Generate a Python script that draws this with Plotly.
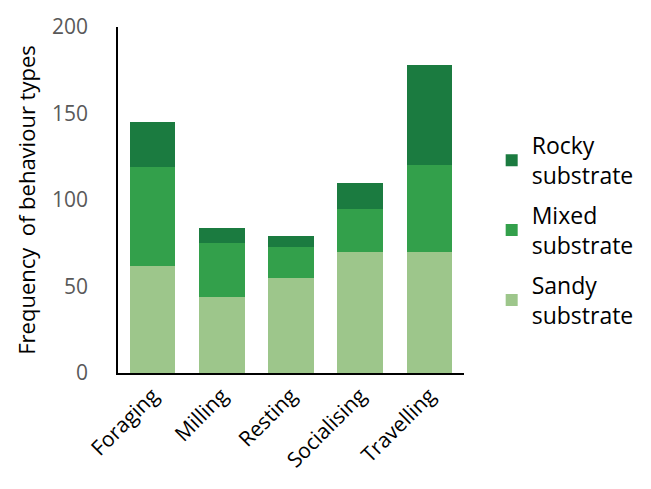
import plotly.graph_objects as go

behaviours = ["Foraging", "Milling", "Resting", "Socialising", "Travelling"]
sandy = [62, 44, 55, 70, 70]
mixed = [57, 31, 18, 25, 50]
rocky = [26, 9, 6, 15, 58]

# (legend label, values, colour, legend rank) - stacked bottom to top
series = [
    ("Sandy<br>substrate", sandy, "#9dc68b", 3),
    ("Mixed<br>substrate", mixed, "#33a04b", 2),
    ("Rocky<br>substrate", rocky, "#1b7b40", 1),
]

fig = go.Figure()
for i, (name, vals, col, rank) in enumerate(series):
    fig.add_trace(go.Bar(
        x=behaviours, y=vals, name=name, marker_color=col,
        marker_line_width=0, legendgroup=f"g{i}", legendrank=rank,
    ))

font_family = "Open Sans"
fig.update_layout(
    barmode="stack",
    bargap=0.34,
    width=651, height=489,
    margin=dict(l=118, r=184, t=23, b=116),
    paper_bgcolor="white", plot_bgcolor="white",
    font=dict(family=font_family, color="black"),
    showlegend=True,
    legend=dict(
        x=1.08, xanchor="left", y=0.72, yanchor="top",
        traceorder="grouped", tracegroupgap=7,
        font=dict(size=23, color="black", family=font_family),
        bgcolor="rgba(0,0,0,0)",
    ),
)
fig.update_xaxes(
    showline=True, linecolor="black", linewidth=2,
    tickangle=-45, tickfont=dict(size=21, color="black"),
    showgrid=False, ticks="",
)
fig.update_yaxes(
    range=[0, 200], dtick=50, showline=True, linecolor="black", linewidth=1.5,
    showgrid=False, zeroline=False, ticks="",
    tickfont=dict(size=21, color="#595959"), ticklabelstandoff=24,
    title=dict(text="Frequency  of behaviour types", font=dict(size=22, color="black"), standoff=10),
)

fig.write_html("out.html")
